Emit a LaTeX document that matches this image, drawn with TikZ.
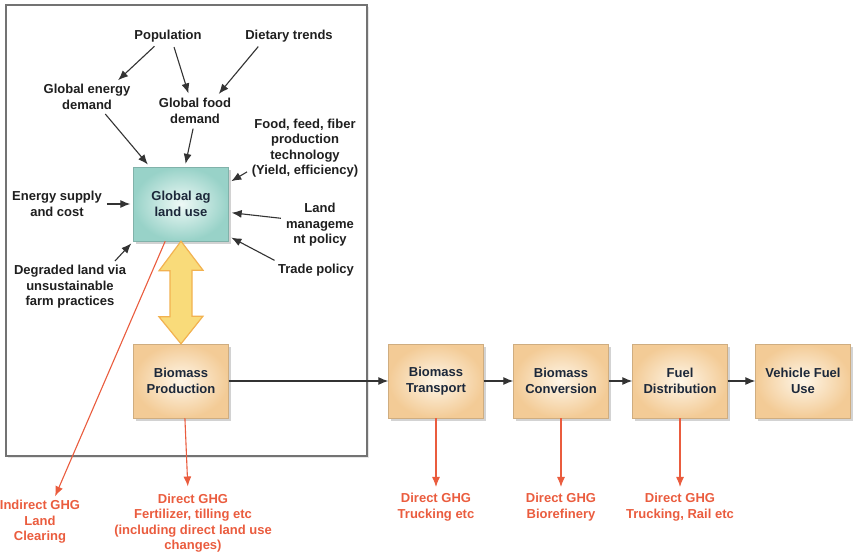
\documentclass[tikz,border=0pt]{standalone}
\usepackage{fontspec}
\setmainfont{Liberation Sans}
\usetikzlibrary{arrows.meta,shadows}

\definecolor{agteal}{RGB}{152,210,200}
\definecolor{aglight}{RGB}{238,249,246}
\definecolor{tanedge}{RGB}{243,203,150}
\definecolor{tanlight}{RGB}{254,246,232}
\definecolor{ghgred}{RGB}{234,92,62}
\definecolor{boxtext}{RGB}{28,40,58}
\definecolor{bigfill}{RGB}{249,219,122}
\definecolor{bigedge}{RGB}{242,178,80}

\tikzset{
  lbl/.style={font=\fontsize{13}{15.5}\selectfont\bfseries, align=center, inner sep=2pt, text=black!88},
  ghg/.style={lbl, text=ghgred},
  stage/.style={lbl, text=boxtext, minimum width=95pt, minimum height=74pt,
    draw=tanedge!85!black, line width=0.4pt, inner color=tanlight, outer color=tanedge,
    drop shadow={opacity=0.35, shadow xshift=2pt, shadow yshift=-3pt}},
  agbox/.style={stage, draw=agteal!85!black, inner color=aglight, outer color=agteal},
  cause/.style={draw=black!80, line width=1.1pt, -{Latex[length=10pt,width=8pt]}, shorten <=3pt, shorten >=3pt},
  flow/.style={cause, shorten <=0pt, shorten >=0pt},
  emit/.style={draw=ghgred, line width=1.1pt, -{Latex[length=10pt,width=8pt]}}
}

\begin{document}
\begin{tikzpicture}[x=1pt, y=-1pt]
\useasboundingbox (0,0) rectangle (853,554);
\path[draw=black!55, line width=1.5pt, fill=white, drop shadow={opacity=0.2, shadow xshift=2pt, shadow yshift=-2pt}] (6,5) rectangle (367,456);

\draw (181,204) node (ag) [agbox] {Global ag\\land use};
\draw (181,381) node (prod) [stage] {Biomass\\Production};
\draw (436,381) node (transp) [stage] {Biomass\\Transport};
\draw (561,381) node (conv) [stage] {Biomass\\Conversion};
\draw (680,381) node (dist) [stage] {Fuel\\Distribution};
\draw (803,381) node (vehicle) [stage] {Vehicle Fuel\\Use};

\draw (168,36) node (pop) [lbl] {Population};
\draw (289,36) node (diet) [lbl] {Dietary trends};
\draw (87,97) node (energy) [lbl] {Global energy\\demand};
\draw (195,111) node (food) [lbl] {Global food\\demand};
\draw (305,148) node (tech) [lbl] {Food, feed, fiber\\production\\technology\\(Yield, efficiency)};
\draw (57,204) node (supply) [lbl] {Energy supply\\and cost};
\draw (320,225) node (landmgmt) [lbl] {Land\\manageme\\nt policy};
\draw (316,270) node (trade) [lbl] {Trade policy};
\draw (70,287) node (degraded) [lbl] {Degraded land via\\unsustainable\\farm practices};

\draw (40,522) node (indirect) [ghg] {Indirect GHG\\Land\\Clearing};
\draw (193,523) node (ghgprod) [ghg] {Direct GHG\\Fertilizer, tilling etc\\(including direct land use\\changes)};
\draw (436,507) node (ghgtransp) [ghg] {Direct GHG\\Trucking etc};
\draw (561,507) node (ghgconv) [ghg] {Direct GHG\\Biorefinery};
\draw (680,507) node (ghgdist) [ghg] {Direct GHG\\Trucking, Rail etc};

\draw[cause] (pop.216) -- (energy.27);
\draw[cause] (pop.302) -- (food.111);
\draw[cause] (diet.196) -- (food.34);
\draw[cause] (energy.318) -- (ag.130);
\draw[cause] (food.265) -- (ag.84);
\draw[cause] (tech.202) -- (ag.24);
\draw[cause] (supply.east) -- (ag.west);
\draw[cause] (landmgmt.170) -- (ag.350);
\draw[cause] (trade.168) -- (ag.326);
\draw[cause] (degraded.29) -- (ag.south west);

\draw[bigedge, line width=1.2pt, fill=bigfill] (ag.south) -- ++(22,29) -- ++(-11,0) -- ++(0,46) -- ++(11,0)
  -- (prod.north) -- ++(-22,-27) -- ++(11,0) -- ++(0,-46) -- ++(-11,0) -- cycle;

\draw[flow] (prod) -- (transp);
\draw[flow] (transp) -- (conv);
\draw[flow] (conv) -- (dist);
\draw[flow] (dist) -- (vehicle);

\draw[emit, shorten >=2pt] (ag.247) -- (indirect.59);
\draw[emit, shorten >=5pt] (prod.276) -- (ghgprod.99);
\draw[emit, shorten >=4pt] (transp) -- (ghgtransp);
\draw[emit, shorten >=4pt] (conv) -- (ghgconv);
\draw[emit, shorten >=4pt] (dist) -- (ghgdist);
\end{tikzpicture}
\end{document}
